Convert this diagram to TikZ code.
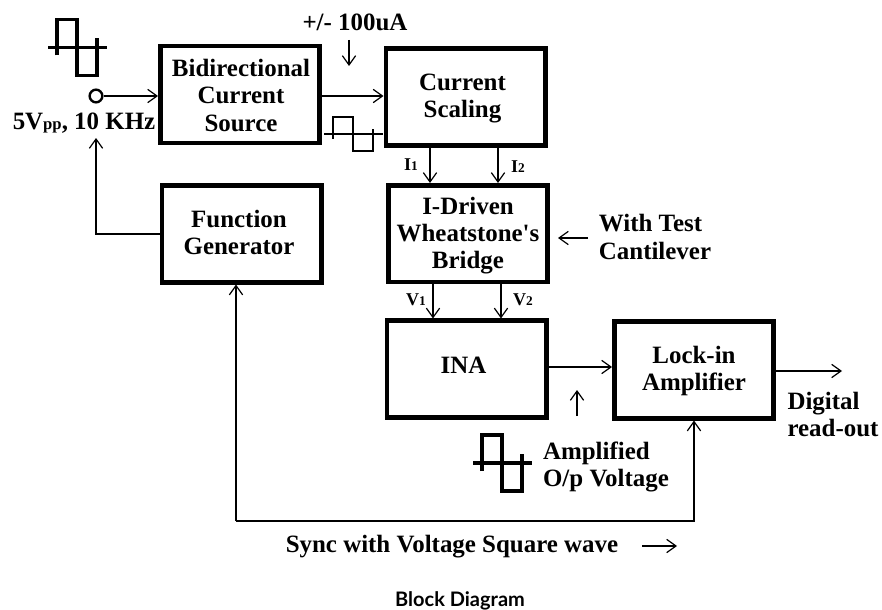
\documentclass[tikz,border=0pt]{standalone}
\usepackage{fontspec}
\setmainfont{Liberation Serif}
\newfontfamily\captionfont{Lato}
\usetikzlibrary{arrows.meta}
\newcommand{\lowtext}[1]{{\fontsize{12.5pt}{12.5pt}\selectfont #1}}
\begin{document}
\begin{tikzpicture}
[x=0.75pt,y=-0.75pt,
  blockdecorate/.style={shape=rectangle,draw,line width=3.4pt,minimum width=119.6pt,minimum height=72.4pt,inner sep=0pt},
  textdecorate/.style={inner sep=0pt,font=\fontsize{18.7pt}{20.4pt}\selectfont\bfseries},
  smalldecorate/.style={inner sep=0pt,font=\fontsize{13.5pt}{14pt}\selectfont\bfseries},
  arrowdecorate/.style={-{Straight Barb[length=7pt,width=10pt,line width=0.9pt]},line width=1.6pt},
  wavedecorate/.style={line width=1.5pt,miter limit=2}]
\useasboundingbox (0,0) rectangle (882,610);
%% blocks
\foreach \nodename/\x/\y/\tx/\ty/\blocktext in {
  source/240/94.5/241/95.5/{Bidirectional\\Current\\Source},
  scaling/465.5/97/462.5/98.5/{Current\\Scaling},
  generator/241.5/234/239/232.5/{Function\\Generator},
  bridge/468/233.5/468/235.5/{I-Driven\\Wheatstone\textquotesingle s\\Bridge},
  ina/466.5/369/463.5/365/{INA},
  lockin/694/370/694/371/{Lock-in\\Amplifier}} {
  \node (\nodename) at (\x,\y) [blockdecorate] {};
  \node (\nodename text) at (\tx,\ty) [textdecorate,align=center] {\blocktext};
}
%% labels
\node (range) at (355,22) [textdecorate] {+/- 100uA};
\node (freq) at (84,123.5) [textdecorate] {5V\lowtext{pp}, 10 KHz};
\node (test) at (655,237) [textdecorate,align=left] {With Test\\Cantilever};
\node (digital) at (833,414.5) [textdecorate,align=left] {Digital\\read-out};
\node (amplified) at (606,467) [textdecorate,align=left] {Amplified\\O/p Voltage};
\node (sync) at (452,546.5) [textdecorate] {Sync with Voltage Square wave};
\foreach \nodename/\x/\y/\letter/\num in {
  ione/411/165/I/1, itwo/518/167/I/2, vone/416/300/V/1, vtwo/523/300/V/2} {
  \node (\nodename) at (\x,\y) [smalldecorate] {\letter{\fontsize{10pt}{10pt}\selectfont\num}};
}
\node (caption) at (460,601) [inner sep=0pt,font=\captionfont\fontsize{15pt}{16pt}\selectfont\bfseries] {Block Diagram};
%% input terminal and free ends
\node (input) at (96,96) [shape=circle,draw,line width=1.8pt,minimum size=9.5pt,inner sep=0pt] {};
\foreach \nodename/\x/\y in {
  genup/96/138, rangetop/349/40, rangeend/349/66, testtop/588/238, testend/558/238,
  amptop/577/416, ampend/577/390, synctop/642/546, syncend/677/546, readout/842/371,
  iline/430/165, ilinetwo/498/165, vline/433/300, vlinetwo/501/300, inaline/0/367,
  corner/236/521, lockfoot/694/521} {
  \coordinate (\nodename) at (\x,\y);
}
%% edges
\path
\foreach \startnode/\endnode in {
  rangetop/rangeend, testtop/testend, amptop/ampend, synctop/syncend} {
  (\startnode) edge[arrowdecorate] (\endnode)
};
\draw[arrowdecorate] (input) -- (input -| source.west);
\draw[arrowdecorate] (source.east |- input) -- (scaling.west |- input);
\draw[arrowdecorate] (generator.west) -| (genup);
\draw[arrowdecorate] (ina.east |- inaline) -- (lockin.west |- inaline);
\draw[arrowdecorate] (lockin.east |- readout) -- (readout);
\draw[arrowdecorate] (corner) -- (corner |- generator.south);
\draw[arrowdecorate] (corner) -- (lockfoot) -- (lockfoot |- lockin.south);
\foreach \startnode/\endnode/\lineat in {
  scaling/bridge/iline, scaling/bridge/ilinetwo, bridge/ina/vline, bridge/ina/vlinetwo} {
  \draw[arrowdecorate] (\lineat |- \startnode.south) -- (\lineat |- \endnode.north);
}
%% square waves
\foreach \x/\y/\high/\w in {77/47.5/1/2.6pt, 353/134/0.6/1.6pt, 502/463/1/2.6pt} {
  \begin{scope}[shift={(\x,\y)},yscale=\high]
    \draw[line width=\w] (-29,0) -- (30,0);
    \draw[wavedecorate,line width=\w] (-20,8) -- (-20,-28) -- (0,-28) -- (0,28) -- (20,28) -- (20,-9);
  \end{scope}
}
\end{tikzpicture}
\end{document}
